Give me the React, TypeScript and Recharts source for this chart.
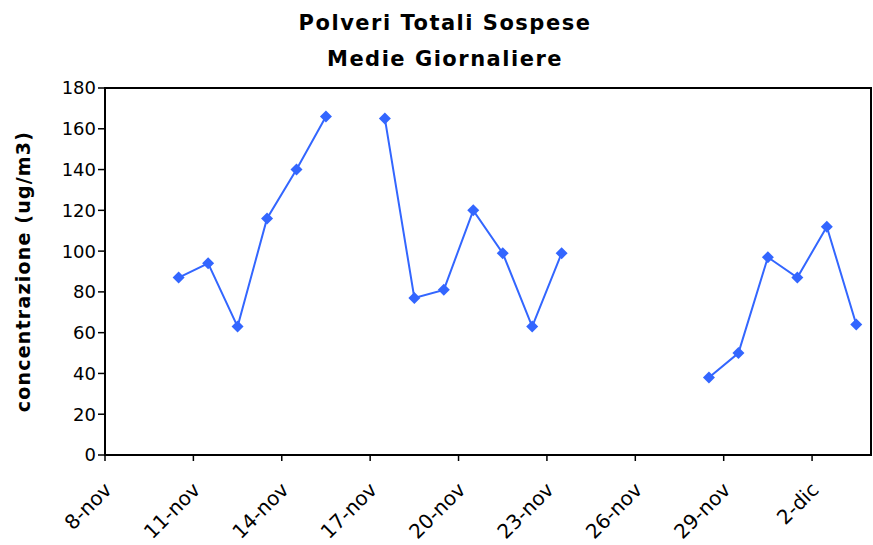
import { Line, LineChart, ReferenceArea, XAxis, YAxis } from 'recharts'

// days counted from 8-nov; points sit in the middle of their day
const dayOffsets = [2, 3, 4, 5, 6, 7, 8, 9, 10, 11, 12, 13, 14, 15, 16, 17, 18, 19, 20, 21, 22, 23, 24, 25]
const ptsValues = [87, 94, 63, 116, 140, 166, null, 165, 77, 81, 120, 99, 63, 99, null, null, null, null, 38, 50, 97, 87, 112, 64]
const xTickOffsets = [0, 3, 6, 9, 12, 15, 18, 21, 24]
const xTickLabels = ['8-nov', '11-nov', '14-nov', '17-nov', '20-nov', '23-nov', '26-nov', '29-nov', '2-dic']
const yTicks = [0, 20, 40, 60, 80, 100, 120, 140, 160, 180]

const FONT = '"DejaVu Sans", Verdana, sans-serif'
const BLUE = '#3366ff'

const chartData = dayOffsets.map((day, i) => ({ x: day + 0.5, pts: ptsValues[i] }))

const Diamond = (props: { cx?: number; cy?: number; value?: number | null }) => {
  const { cx, cy, value } = props
  if (cx == null || cy == null || value == null) return <g />
  const r = 6
  return <polygon points={`${cx},${cy - r} ${cx + r},${cy} ${cx},${cy + r} ${cx - r},${cy}`} fill={BLUE} />
}

const DateTick = (props: { x?: number; y?: number; payload?: { value: number } }) => {
  const { x = 0, y = 0, payload } = props
  const idx = xTickOffsets.indexOf(payload?.value ?? -1)
  const ax = x + 8
  const ay = y + 28
  return (
    <text
      x={ax}
      y={ay}
      transform={`rotate(-45, ${ax}, ${ay})`}
      textAnchor="end"
      fontSize={20}
      fontFamily={FONT}
      fill="#000"
    >
      {xTickLabels[idx]}
    </text>
  )
}

export default function App() {
  return (
    <div style={{ position: 'absolute', left: 0, top: 0, width: 873, height: 545, background: '#fff' }}>
      <div
        style={{
          position: 'absolute',
          left: 0,
          top: 5,
          width: 890,
          textAlign: 'center',
          fontFamily: FONT,
          fontWeight: 'bold',
          fontSize: 21,
          letterSpacing: 1.5,
          lineHeight: '36px',
          color: '#000',
        }}
      >
        Polveri Totali Sospese
        <br />
        Medie Giornaliere
      </div>
      <LineChart width={873} height={545} data={chartData} margin={{ top: 88, right: 2, bottom: 0, left: 55 }}>
        <XAxis
          dataKey="x"
          type="number"
          domain={[0, 26]}
          ticks={xTickOffsets}
          tick={<DateTick />}
          tickLine={{ stroke: '#000', strokeWidth: 1.5 }}
          tickSize={6}
          axisLine={{ stroke: '#000', strokeWidth: 2 }}
          height={90}
          interval={0}
        />
        <YAxis
          domain={[0, 180]}
          ticks={yTicks}
          width={50}
          tick={{ fill: '#000', fontSize: 18, fontFamily: FONT }}
          tickLine={{ stroke: '#000', strokeWidth: 1.5 }}
          tickSize={7}
          axisLine={{ stroke: '#000', strokeWidth: 2 }}
          label={{
            value: 'concentrazione (ug/m3)',
            angle: -90,
            position: 'insideLeft',
            offset: -32,
            style: {
              textAnchor: 'middle',
              fontFamily: FONT,
              fontWeight: 'bold',
              fontSize: 19,
              letterSpacing: 1.2,
              fill: '#000',
            },
          }}
        />
        <ReferenceArea x1={0} x2={26} y1={0} y2={180} fill="none" stroke="#000" strokeWidth={2} />
        <Line
          dataKey="pts"
          stroke={BLUE}
          strokeWidth={2}
          dot={<Diamond />}
          activeDot={false}
          connectNulls={false}
          isAnimationActive={false}
        />
      </LineChart>
    </div>
  )
}
